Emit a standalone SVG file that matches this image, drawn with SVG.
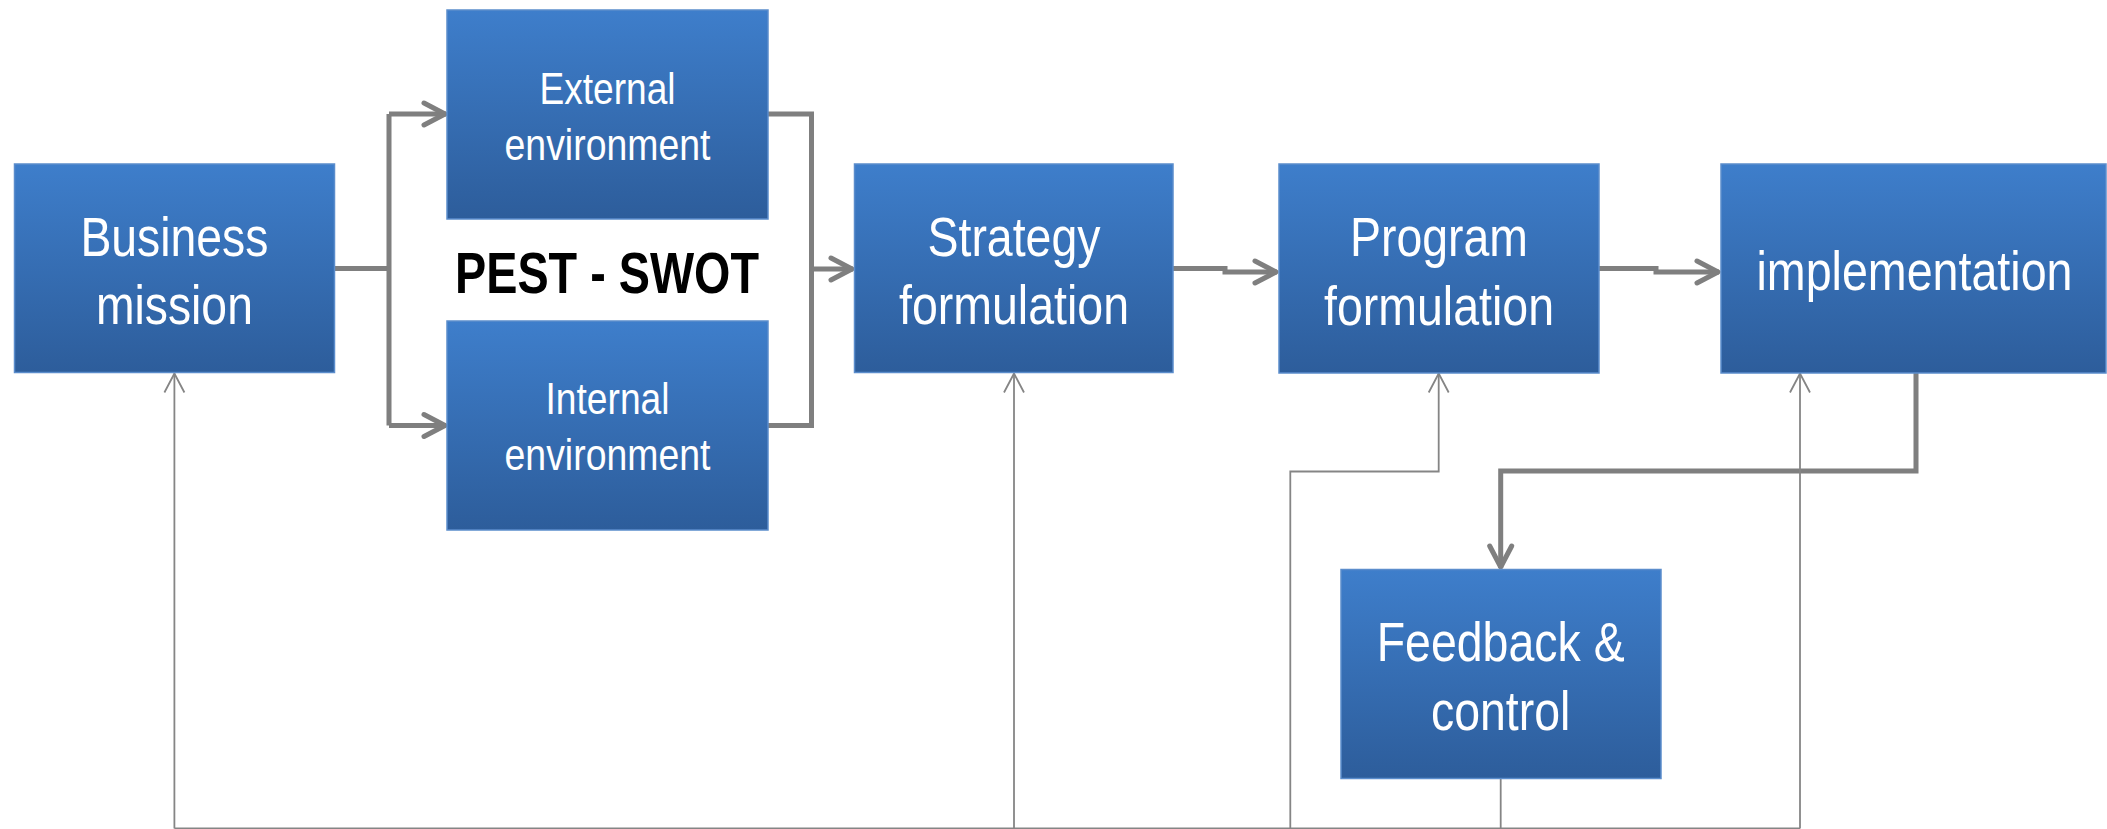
<svg xmlns="http://www.w3.org/2000/svg" width="2107" height="829" viewBox="0 0 2107 829">
<defs>
<linearGradient id="boxGrad" x1="0" y1="0" x2="0" y2="1">
<stop offset="0" stop-color="#3e7ecb"/>
<stop offset="1" stop-color="#2d5d9b"/>
</linearGradient>
<marker id="thick" markerUnits="userSpaceOnUse" markerWidth="40" markerHeight="40" viewBox="-30 -20 40 40" refX="0" refY="0" orient="auto" overflow="visible">
<path d="M-22,-11 L-1,0 L-22,11" fill="none" stroke="#7f7f7f" stroke-width="5" stroke-linecap="round" stroke-linejoin="round"/>
</marker>
<marker id="thin" markerUnits="userSpaceOnUse" markerWidth="40" markerHeight="40" viewBox="-30 -20 40 40" refX="0" refY="0" orient="auto" overflow="visible">
<path d="M-19,-10 L0,0 L-19,10" fill="none" stroke="#858585" stroke-width="1.8"/>
</marker>
</defs>
<style>
.box{fill:url(#boxGrad);stroke:#5b8dcc;stroke-width:1.5}
.lbl{font-family:"Liberation Sans",Arial,sans-serif;font-size:55px;fill:#ffffff;text-anchor:middle}
.sm{font-family:"Liberation Sans",Arial,sans-serif;font-size:44px;fill:#ffffff;text-anchor:middle}
.pest{font-family:"Liberation Sans",Arial,sans-serif;font-size:57px;font-weight:bold;fill:#000000;text-anchor:middle}
.thick{fill:none;stroke:#7f7f7f;stroke-width:5}
.thin{fill:none;stroke:#858585;stroke-width:1.8}
</style>
<rect width="2107" height="829" fill="#ffffff"/>

<g id="connectors">
<path class="thick" d="M334,268.5 H389"/>
<path class="thick" d="M389,114 V425.5"/>
<path class="thick" d="M389,114 H446" marker-end="url(#thick)"/>
<path class="thick" d="M389,425.5 H446" marker-end="url(#thick)"/>
<path class="thick" d="M768,114 H811.5 V425.5 H768"/>
<path class="thick" d="M811.5,269 H853" marker-end="url(#thick)"/>
<path class="thick" d="M1173,268.5 H1225 V272 H1277" marker-end="url(#thick)"/>
<path class="thick" d="M1599,268.5 H1656 V272 H1719" marker-end="url(#thick)"/>
<path class="thick" d="M1916,373 V471 H1500.7 V568" marker-end="url(#thick)"/>
<path class="thin" d="M1500.7,778 V829"/>
<path class="thin" d="M174.4,828.5 H1800"/>
<path class="thin" d="M174.4,828.5 V373.5" marker-end="url(#thin)"/>
<path class="thin" d="M1014,828.5 V373.5" marker-end="url(#thin)"/>
<path class="thin" d="M1290.3,828.5 V471.5 H1438.7 V373.5" marker-end="url(#thin)"/>
<path class="thin" d="M1800,828.5 V373.5" marker-end="url(#thin)"/>
</g>

<g id="business-mission">
<rect class="box" x="14.5" y="164" width="320" height="208.5"/>
<text class="lbl" x="174.4" y="256" textLength="188" lengthAdjust="spacingAndGlyphs">Business</text>
<text class="lbl" x="174.4" y="324" textLength="157" lengthAdjust="spacingAndGlyphs">mission</text>
</g>

<g id="external-environment">
<rect class="box" x="447" y="10" width="321" height="209"/>
<text class="sm" x="607.5" y="103.5" textLength="136" lengthAdjust="spacingAndGlyphs">External</text>
<text class="sm" x="607.5" y="159.6" textLength="206" lengthAdjust="spacingAndGlyphs">environment</text>
</g>

<g id="internal-environment">
<rect class="box" x="447" y="321" width="321" height="209"/>
<text class="sm" x="607.5" y="414" textLength="124" lengthAdjust="spacingAndGlyphs">Internal</text>
<text class="sm" x="607.5" y="470" textLength="206" lengthAdjust="spacingAndGlyphs">environment</text>
</g>

<g id="pest-swot">
<text class="pest" x="607" y="293" textLength="304" lengthAdjust="spacingAndGlyphs">PEST - SWOT</text>
</g>

<g id="strategy-formulation">
<rect class="box" x="854.5" y="164" width="318.5" height="208.5"/>
<text class="lbl" x="1014" y="256" textLength="173" lengthAdjust="spacingAndGlyphs">Strategy</text>
<text class="lbl" x="1014" y="324" textLength="230" lengthAdjust="spacingAndGlyphs">formulation</text>
</g>

<g id="program-formulation">
<rect class="box" x="1279" y="164" width="320" height="209"/>
<text class="lbl" x="1439" y="256" textLength="178" lengthAdjust="spacingAndGlyphs">Program</text>
<text class="lbl" x="1439" y="324.5" textLength="230" lengthAdjust="spacingAndGlyphs">formulation</text>
</g>

<g id="implementation">
<rect class="box" x="1721" y="164" width="385" height="209"/>
<text class="lbl" x="1914.5" y="290" textLength="316" lengthAdjust="spacingAndGlyphs">implementation</text>
</g>

<g id="feedback-control">
<rect class="box" x="1341" y="569.5" width="320" height="209"/>
<text class="lbl" x="1500.7" y="661" textLength="248" lengthAdjust="spacingAndGlyphs">Feedback &amp;</text>
<text class="lbl" x="1500.7" y="730" textLength="139.5" lengthAdjust="spacingAndGlyphs">control</text>
</g>
</svg>
